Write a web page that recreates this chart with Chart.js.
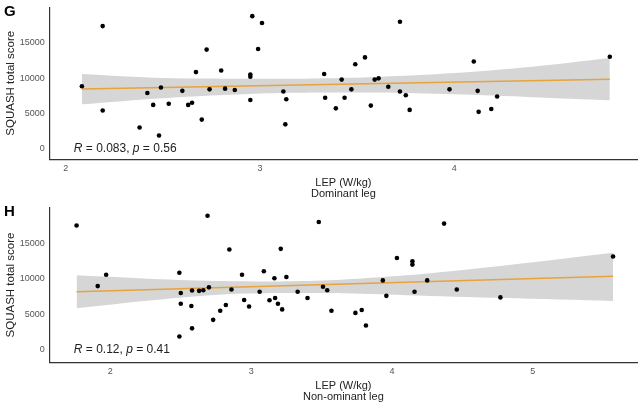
<!DOCTYPE html>
<html>
<head>
<meta charset="utf-8">
<script src="https://cdn.jsdelivr.net/npm/chart.js@4"></script>
<style>
  body { margin: 0; background: #fff; font-family: "Liberation Sans", Arial, sans-serif; }
  .panel { position: relative; width: 643px; }
  .lbl { position: absolute; left: 4px; top: 2px; font-weight: bold; font-size: 15px; }
</style>
</head>
<body>
<div class="panel" style="height:200px"><canvas id="g" width="643" height="200"></canvas><div class="lbl">G</div></div>
<div class="panel" style="height:203px"><canvas id="h" width="643" height="203"></canvas><div class="lbl">H</div></div>
<script>
// Dominant leg (G)
const gX = [2.083, 2.19, 2.19, 2.38, 2.42, 2.45, 2.48, 2.49, 2.53, 2.60, 2.63, 2.65, 2.67, 2.70, 2.725, 2.74, 2.80, 2.82, 2.87, 2.95, 2.95, 2.95, 2.96, 2.99, 3.01, 3.12, 3.13, 3.135, 3.33, 3.335, 3.39, 3.42, 3.435, 3.47, 3.49, 3.54, 3.57, 3.59, 3.61, 3.66, 3.72, 3.72, 3.75, 3.77, 3.975, 4.10, 4.12, 4.125, 4.19, 4.22, 4.80];
const gY = [8850, 17350, 5400, 3000, 7880, 6200, 1860, 8670, 6370, 8190, 6200, 6500, 10840, 4120, 14030, 8400, 11060, 8500, 8320, 6900, 10180, 10490, 18760, 14120, 17790, 8100, 3450, 6990, 10580, 7210, 5710, 9780, 7210, 8400, 11950, 12920, 6100, 9780, 9960, 8760, 17970, 8100, 7570, 5490, 8400, 12350, 8190, 5220, 5620, 7390, 13010];
const gFitX = [2.083, 4.80];
const gFitY = [8450, 9820];
const gBandX = [2.083, 2.5, 3.0, 3.3, 3.6, 4.0, 4.4, 4.80];
const gUpper = [10580, 10000, 9900, 9950, 10150, 10700, 11600, 12830];
const gLower = [6280, 7150, 7800, 7950, 7950, 7700, 7300, 6860];

// Non-dominant leg (H)
const hX = [1.76, 1.91, 1.97, 2.49, 2.50, 2.50, 2.49, 2.575, 2.58, 2.58, 2.63, 2.66, 2.69, 2.70, 2.73, 2.78, 2.82, 2.845, 2.86, 2.935, 2.95, 2.985, 3.06, 3.09, 3.13, 3.165, 3.17, 3.19, 3.21, 3.22, 3.25, 3.33, 3.40, 3.51, 3.54, 3.48, 3.57, 3.74, 3.785, 3.815, 3.935, 3.96, 4.035, 4.145, 4.145, 4.16, 4.25, 4.37, 4.46, 4.77, 5.57];
const hY = [17530, 8990, 10590, 10860, 8010, 6500, 1870, 6190, 8370, 3030, 8320, 8410, 18910, 8810, 4230, 5520, 6320, 14150, 8500, 10590, 7030, 6100, 8190, 11080, 6990, 10100, 7300, 6500, 14240, 5700, 10280, 8190, 7300, 8900, 8410, 18020, 5520, 5210, 5610, 3430, 9790, 7610, 12950, 12500, 12020, 8190, 9790, 17800, 8500, 7390, 13170];
const hFitX = [1.76, 5.57];
const hFitY = [8190, 10380];
const hBandX = [1.76, 2.3, 2.8, 3.2, 3.6, 4.1, 4.8, 5.57];
const hUpper = [10500, 10000, 9700, 9650, 9850, 10500, 11900, 13700];
const hLower = [5870, 7000, 7800, 8000, 8000, 7700, 7300, 6900];

const yTicks = [0, 5000, 10000, 15000];

const pts = (xs, ys) => xs.map((x, i) => ({ x: x, y: ys[i] }));

const statText = (txt) => ({
    id: 'stat',
    afterDatasetsDraw(chart) {
        const c = chart.ctx, xs = chart.scales.x, ys = chart.scales.y;
        c.save();
        c.fillStyle = '#222';
        c.textBaseline = 'bottom';
        let x = xs.left + 24;
        txt.forEach(([s, it]) => {
            c.font = (it ? 'italic ' : '') + '12px "Liberation Sans", Arial';
            c.fillText(s, x, ys.getPixelForValue(0) + 6);
            x += c.measureText(s).width;
        });
        c.restore();
    }
});

function panel(dom, xs, ys, fx, fy, bx, up, lo, xmin, xmax, ymin, xticks, sub, stat, pad) {
    new Chart(document.getElementById(dom), {
        type: 'scatter',
        data: {
            datasets: [
                { data: pts(bx, up), showLine: true, pointRadius: 0, borderWidth: 0, fill: false, tension: 0.3, order: 3 },
                { data: pts(bx, lo), showLine: true, pointRadius: 0, borderWidth: 0, fill: '-1', backgroundColor: '#d6d6d6', tension: 0.3, order: 3 },
                { data: pts(fx, fy), showLine: true, pointRadius: 0, borderColor: '#e8a33a', borderWidth: 1.5, order: 2 },
                { data: pts(xs, ys), pointRadius: 2.3, backgroundColor: '#000', borderWidth: 0, order: 1 }
            ]
        },
        options: {
            responsive: false,
            animation: false,
            layout: { padding: pad },
            plugins: { legend: { display: false }, tooltip: { enabled: false } },
            scales: {
                x: {
                    type: 'linear', min: xmin, max: xmax,
                    afterBuildTicks: a => { a.ticks = xticks.map(v => ({ value: v })); },
                    grid: { display: false, tickLength: 3 },
                    border: { color: '#333', width: 1.2 },
                    ticks: { color: '#555', font: { size: 9 }, padding: 1, callback: v => String(v) },
                    title: { display: true, text: ['LEP (W/kg)', sub], color: '#222', font: { size: 11, lineHeight: 1.05 }, padding: { top: 2, bottom: 0 } }
                },
                y: {
                    min: ymin, max: 20000,
                    afterBuildTicks: a => { a.ticks = yTicks.map(v => ({ value: v })); },
                    grid: { display: false, tickLength: 3 },
                    border: { color: '#333', width: 1.2 },
                    ticks: { color: '#555', font: { size: 9 }, padding: 2, callback: v => String(v) },
                    title: { display: true, text: 'SQUASH total score', color: '#222', font: { size: 11.5 }, padding: 0 }
                }
            }
        },
        plugins: [statText(stat)]
    });
}

panel('g', gX, gY, gFitX, gFitY, gBandX, gUpper, gLower, 1.918, 4.94, -1470, [2, 3, 4], 'Dominant leg',
    [['R', true], [' = 0.083, ', false], ['p', true], [' = 0.56', false]], { left: 4, right: 6, top: 4, bottom: 0 });
panel('h', hX, hY, hFitX, hFitY, hBandX, hUpper, hLower, 1.57, 5.74, -1730, [2, 3, 4, 5], 'Non-ominant leg',
    [['R', true], [' = 0.12, ', false], ['p', true], [' = 0.41', false]], { left: 4, right: 6, top: 8, bottom: 0 });
</script>
</body>
</html>
